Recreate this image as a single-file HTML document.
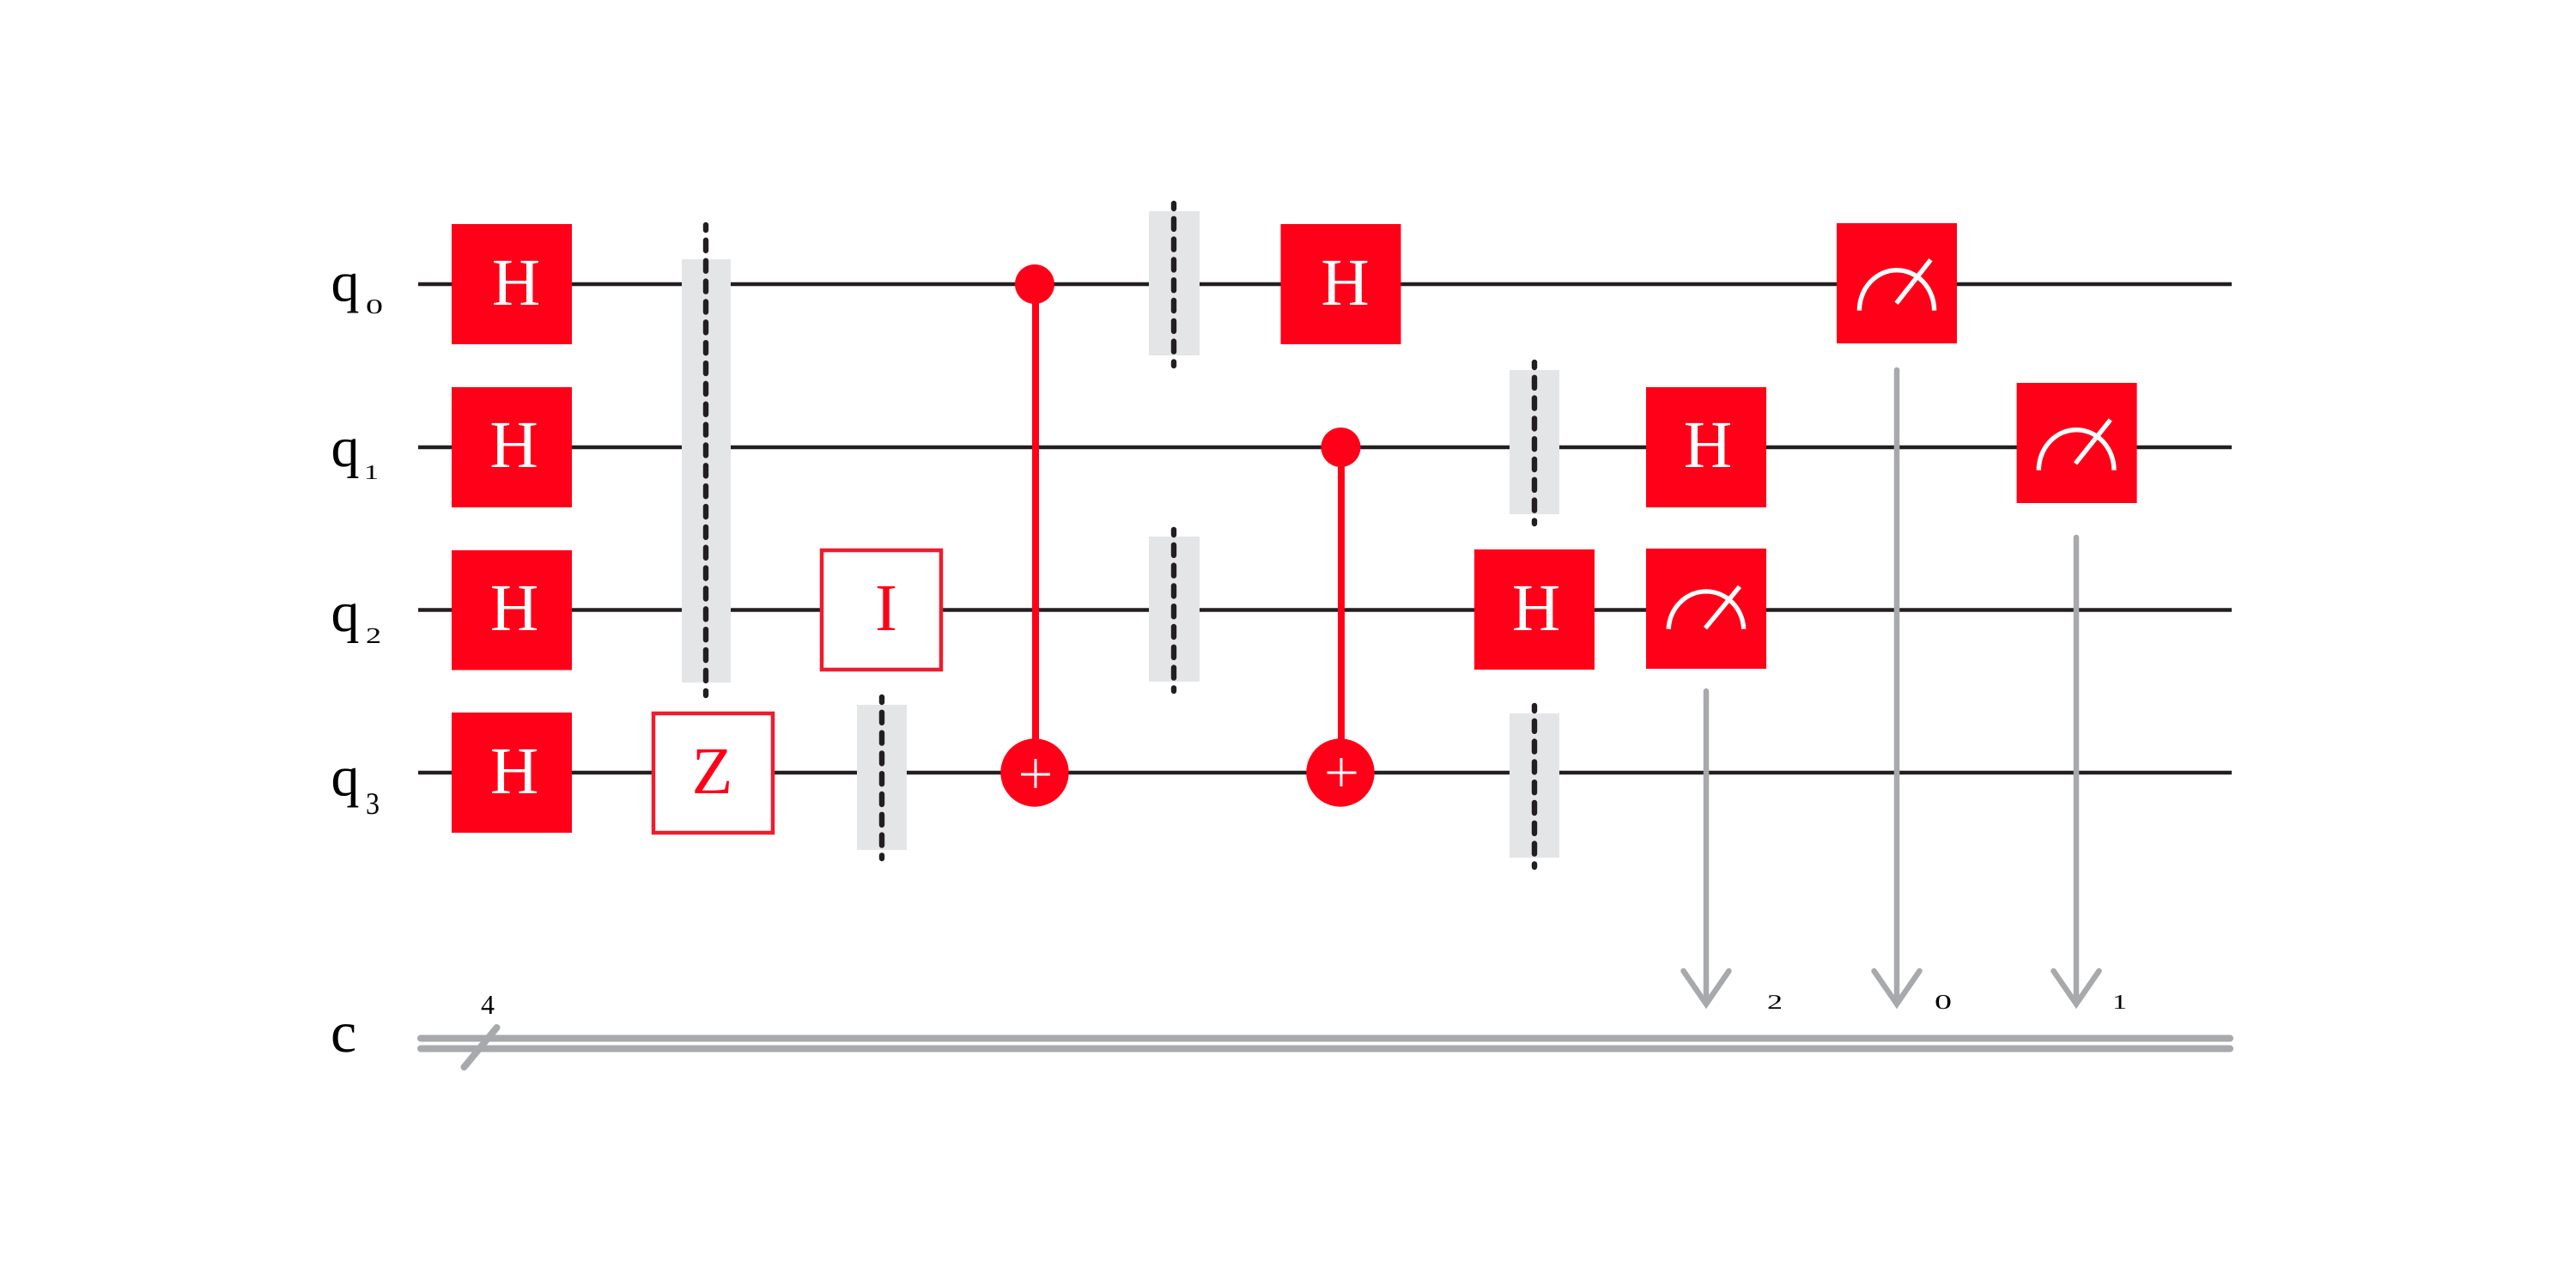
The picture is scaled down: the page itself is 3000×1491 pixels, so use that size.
<!DOCTYPE html>
<html><head><meta charset="utf-8"><style>
html,body{margin:0;padding:0;background:#fff;width:3000px;height:1491px;overflow:hidden}
svg{display:block}
text{font-family:"Liberation Serif",serif;text-rendering:geometricPrecision}
.w{stroke:#231f20;stroke-width:4.5;fill:none}
.g{fill:#ff0018}
.o{fill:#fff;stroke:#ee1c2e;stroke-width:4.5}
.b{fill:#e4e5e7}
.d{stroke:#231f20;stroke-width:6.4;stroke-linecap:round;fill:none}
.h{font-size:78px;fill:#fff;text-anchor:middle}
.r{font-size:78px;fill:#ff0018;text-anchor:middle}
.l{font-size:66px;fill:#000}
.s{fill:#000}
.a{stroke:#a7a9ac;stroke-width:6.5;stroke-linecap:round;fill:none;stroke-linejoin:miter}
.m{stroke:#fff;stroke-width:5.4;fill:none}
.c{stroke:#ff0018;stroke-width:8;fill:none}
.p{stroke:#fff;stroke-width:3;fill:none}
</style></head><body>
<svg width="3000" height="1491" viewBox="0 0 3000 1491" xmlns="http://www.w3.org/2000/svg">
<rect width="3000" height="1491" fill="#fff"/>
<!-- wires -->
<line class="w" x1="487" y1="331" x2="2599" y2="331"/>
<line class="w" x1="487" y1="521" x2="2599" y2="521"/>
<line class="w" x1="487" y1="710.5" x2="2599" y2="710.5"/>
<line class="w" x1="487" y1="900" x2="2599" y2="900"/>
<!-- classical rails -->
<g stroke="#a7a9ac" stroke-width="8" stroke-linecap="round" fill="none">
<line x1="490" y1="1209.5" x2="2597" y2="1209.5"/>
<line x1="490" y1="1221.5" x2="2597" y2="1221.5"/>
<line x1="540.5" y1="1243" x2="578.5" y2="1197"/>
</g>
<!-- barriers -->
<rect class="b" x="794" y="302" width="57" height="493"/>
<rect class="b" x="998" y="821" width="58" height="169"/>
<rect class="b" x="1338" y="246" width="59" height="168"/>
<rect class="b" x="1338" y="625" width="59" height="169"/>
<rect class="b" x="1758" y="431" width="58" height="168"/>
<rect class="b" x="1758" y="831" width="58" height="168"/>
<g class="d" stroke-dasharray="12 11.8" stroke-dashoffset="6">
<line x1="822" y1="262" x2="822" y2="810" stroke-dasharray="12 11.86"/>
<line x1="1027" y1="812" x2="1027" y2="1000"/>
<line x1="1367" y1="237" x2="1367" y2="426"/>
<line x1="1367" y1="617" x2="1367" y2="805"/>
<line x1="1787" y1="422" x2="1787" y2="610"/>
<line x1="1787" y1="822" x2="1787" y2="1010"/>
</g>
<!-- H gates -->
<rect class="g" x="526" y="261" width="140" height="140"/>
<rect class="g" x="526" y="451" width="140" height="140"/>
<rect class="g" x="526" y="641" width="140" height="139.5"/>
<rect class="g" x="526" y="830" width="140" height="140"/>
<rect class="g" x="1491.5" y="261" width="140" height="140"/>
<rect class="g" x="1917" y="451" width="140" height="140"/>
<rect class="g" x="1717" y="640" width="140" height="140"/>
<text class="h" x="601" y="355">H</text>
<text class="h" x="598.5" y="544">H</text>
<text class="h" x="599" y="734">H</text>
<text class="h" x="599" y="924">H</text>
<text class="h" x="1566.5" y="355">H</text>
<text class="h" x="1989" y="544">H</text>
<text class="h" x="1789" y="734">H</text>
<!-- Z and I -->
<rect class="o" x="761" y="831" width="139" height="139"/>
<text class="r" x="829.5" y="924">Z</text>
<rect class="o" x="957" y="641" width="139" height="139"/>
<text class="r" x="1032" y="734">I</text>
<!-- CNOTs -->
<line class="c" x1="1206" y1="331" x2="1206" y2="900"/>
<line class="c" x1="1562" y1="521" x2="1562" y2="900"/>
<circle class="g" cx="1205" cy="331" r="23"/>
<circle class="g" cx="1561.5" cy="521" r="23"/>
<circle class="g" cx="1205" cy="900" r="39.7"/>
<circle class="g" cx="1561" cy="900" r="39.7"/>
<path class="p" d="M1206 884V918M1189 902H1223"/>
<path class="p" d="M1562 883V916M1545.5 900H1579.5"/>
<!-- measurement arrows -->
<line class="a" x1="1987" y1="805" x2="1987" y2="1168"/>
<line class="a" x1="2209" y1="431" x2="2209" y2="1168"/>
<line class="a" x1="2418" y1="626" x2="2418" y2="1168"/>
<polyline class="a" points="1960.5,1131 1987,1169.5 2013.5,1131"/>
<polyline class="a" points="2182.5,1131 2209,1169.5 2235.5,1131"/>
<polyline class="a" points="2391.5,1131 2418,1169.5 2444.5,1131"/>
<!-- meters -->
<rect class="g" x="2139" y="260" width="140" height="140"/>
<path class="m" d="M2165.4 361.7A43.6 47 0 0 1 2252.6 361.7M2208.5 353.3L2248.5 302.7"/>
<rect class="g" x="2348.6" y="446" width="140" height="140"/>
<path class="m" d="M2374.3 547.7A43.8 47 0 0 1 2462 547.7M2417 540L2457.8 489"/>
<rect class="g" x="1917" y="639" width="140" height="140"/>
<path class="m" d="M1943.2 732.7A43.8 46 0 0 1 2030.7 732.7M1986 731.7L2026 683.3"/>
<!-- labels -->
<text class="l" x="385.5" y="350.5">q</text>
<text class="l" x="385.5" y="543">q</text>
<text class="l" x="385.5" y="735">q</text>
<text class="l" x="385.5" y="926.5">q</text>
<text class="l" x="385" y="1225" style="font-size:68px">c</text>
<text class="s" font-size="24" x="426" y="365" textLength="20" lengthAdjust="spacingAndGlyphs">0</text>
<text class="s" font-size="24" x="424" y="558" textLength="17" lengthAdjust="spacingAndGlyphs">1</text>
<text class="s" font-size="26" x="426" y="749" textLength="18" lengthAdjust="spacingAndGlyphs">2</text>
<text class="s" font-size="36" x="426" y="948" textLength="16" lengthAdjust="spacingAndGlyphs">3</text>
<text class="s" font-size="32" x="560" y="1181">4</text>
<text class="s" font-size="24" x="2058" y="1175" textLength="18" lengthAdjust="spacingAndGlyphs">2</text>
<text class="s" font-size="24" x="2253" y="1175" textLength="20" lengthAdjust="spacingAndGlyphs">0</text>
<text class="s" font-size="24" x="2460" y="1175" textLength="17" lengthAdjust="spacingAndGlyphs">1</text>
</svg>
</body></html>
